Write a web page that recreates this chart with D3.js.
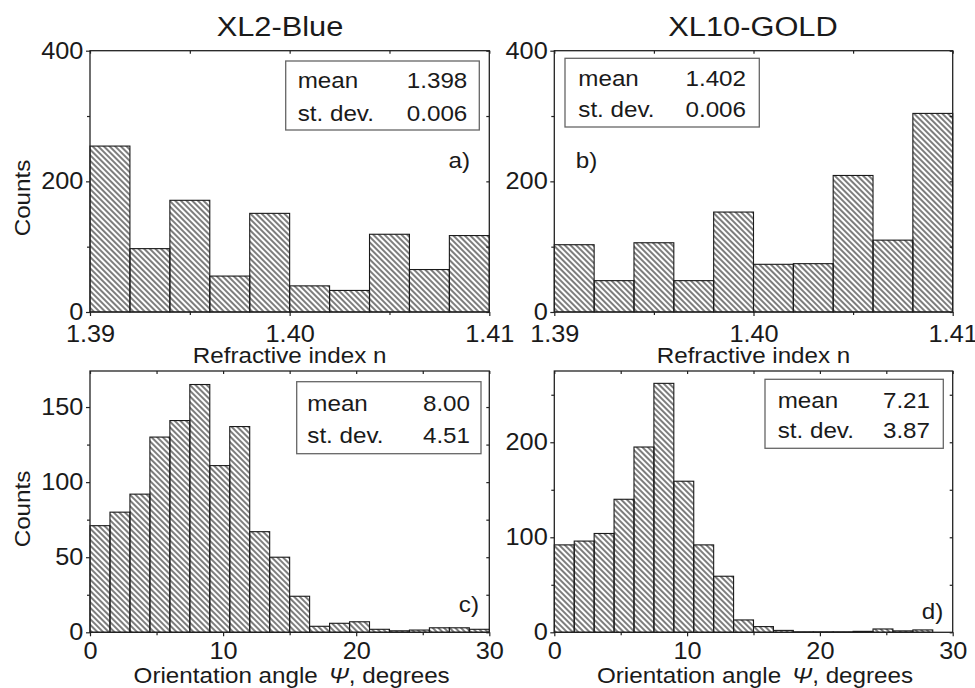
<!DOCTYPE html>
<html>
<head>
<meta charset="utf-8">
<script src="https://cdn.jsdelivr.net/npm/d3@7"></script>
<style>
body { margin: 0; background: #fff; }
svg { display: block; font-family: "Liberation Sans", Arial, sans-serif; }
</style>
</head>
<body>
<svg id="chart" width="975" height="688"></svg>
<script>
// refractive index bins (width 0.002)
const nEdges = [1.390, 1.392, 1.394, 1.396, 1.398, 1.400, 1.402, 1.404, 1.406, 1.408, 1.410];
const countsA = [254, 97, 171, 55, 151, 40, 33, 119, 65, 117];
const countsB = [103, 48, 106, 48, 153, 73, 74, 209, 110, 304];

// orientation angle bins (width 1.5 deg)
const angleEdges = [0, 1.5, 3, 4.5, 6, 7.5, 9, 10.5, 12, 13.5, 15, 16.5, 18, 19.5, 21, 22.5, 24, 25.5, 27, 28.5, 30];
const countsC = [71, 80, 92, 130, 141, 165, 111, 137, 67, 50, 24, 4, 6, 7, 2, 1, 1.5, 3, 3, 2];
const countsD = [92, 96, 104, 140, 195, 262, 159, 92, 59, 13, 6, 2, 0.5, 0.5, 0.5, 1, 3.5, 1.5, 2.5, 0];

// tick labels
const nTicks = [1.39, 1.40, 1.41];
const nMinor = [1.395, 1.405];
const angleTicks = [0, 10, 20, 30];
const angleMinor = [5, 15, 25];

// stats boxes
const statNames = ["mean", "st. dev."];
const statsA = ["1.398", "0.006"];
const statsB = ["1.402", "0.006"];
const statsC = ["8.00", "4.51"];
const statsD = ["7.21", "3.87"];

const titles = ["XL2-Blue", "XL10-GOLD"];

const svg = d3.select("#chart");
const ink = "#1a1a1a";
const sx = 1.1; // the figure's lettering is a bit wide

const defs = svg.append("defs");
const hatch = defs.append("pattern")
  .attr("id", "hatch")
  .attr("patternUnits", "userSpaceOnUse")
  .attr("width", 4)
  .attr("height", 4)
  .attr("patternTransform", "rotate(-45)");
hatch.append("line")
  .attr("x1", 2).attr("y1", -1).attr("x2", 2).attr("y2", 5)
  .attr("stroke", "#111").attr("stroke-width", 1.1);

function label(x, y, txt, size, anchor, rot) {
  return svg.append("text")
    .attr("transform", `translate(${x},${y})` + (rot ? ` rotate(${rot})` : "") + ` scale(${sx},1)`)
    .attr("text-anchor", anchor || "middle")
    .attr("font-size", size)
    .attr("fill", ink)
    .text(txt);
}

function styleAxis(sel) {
  sel.select(".domain").remove();
  sel.selectAll("line").attr("stroke", "#222").attr("stroke-width", 1.2);
  sel.selectAll("text")
    .attr("font-size", 23)
    .attr("fill", ink)
    .attr("font-family", "Liberation Sans, Arial, sans-serif")
    .attr("transform", `scale(${sx},1)`);
}

function drawPanel(p) {
  const x = d3.scaleLinear().domain(p.xDomain).range([p.left, p.right]);
  const y = d3.scaleLinear().domain(p.yDomain).range([p.bottom, p.top]);
  const g = svg.append("g");

  g.selectAll("rect.bar")
    .data(p.counts)
    .join("rect")
    .attr("class", "bar")
    .attr("x", (d, i) => x(p.edges[i]))
    .attr("width", (d, i) => x(p.edges[i + 1]) - x(p.edges[i]))
    .attr("y", d => y(d))
    .attr("height", d => y(0) - y(d))
    .attr("fill", "url(#hatch)")
    .attr("stroke", ink)
    .attr("stroke-width", 1.1);

  g.append("rect")
    .attr("x", p.left).attr("y", p.top)
    .attr("width", p.right - p.left).attr("height", p.bottom - p.top)
    .attr("fill", "none").attr("stroke", "#222").attr("stroke-width", 1.3);

  // bottom + left (outward, labelled)
  g.append("g").attr("transform", `translate(0,${p.bottom})`)
    .call(d3.axisBottom(x).tickValues(p.xMajor).tickSize(4).tickPadding(p.xPad).tickFormat(d3.format(p.xFmt)))
    .call(styleAxis);
  g.append("g").attr("transform", `translate(0,${p.bottom})`)
    .call(d3.axisBottom(x).tickValues(p.xMinor).tickSize(3).tickFormat(""))
    .call(styleAxis);
  g.append("g").attr("transform", `translate(${p.left},0)`)
    .call(d3.axisLeft(y).tickValues(p.yMajor).tickSize(4).tickPadding(2).tickFormat(d3.format("d")))
    .call(styleAxis);
  g.append("g").attr("transform", `translate(${p.left},0)`)
    .call(d3.axisLeft(y).tickValues(p.yMinor).tickSize(3).tickFormat(""))
    .call(styleAxis);

  // top + right mirrors (inward)
  g.append("g").attr("transform", `translate(0,${p.top})`)
    .call(d3.axisTop(x).tickValues(p.xMajor.concat(p.xMinor)).tickSize(-3).tickFormat(""))
    .call(styleAxis);
  g.append("g").attr("transform", `translate(${p.right},0)`)
    .call(d3.axisRight(y).tickValues(p.yMajor.concat(p.yMinor)).tickSize(-3).tickFormat(""))
    .call(styleAxis);

  // stats box
  const b = p.box;
  g.append("rect")
    .attr("x", b.x).attr("y", b.y).attr("width", b.w).attr("height", b.h)
    .attr("fill", "#fff").attr("stroke", "#666").attr("stroke-width", 1.3);
  statNames.forEach((name, i) => {
    label(b.x + b.padL, b.y + b.rows[i], name, 22, "start");
    label(b.x + b.w - b.padR, b.y + b.rows[i], p.stats[i], 22, "end");
  });

  label(p.tag.x, p.tag.y, p.tag.text, 22, p.tag.anchor);
  label((p.left + p.right) / 2 + p.xLabelDx, p.xLabelY, null, 22).call(t => {
    p.xLabel.forEach(part => {
      t.append("tspan").attr("font-style", part.italic ? "italic" : null)
        .attr("dx", part.dx || 0).text(part.s);
    });
  });
  if (p.countsX != null) {
    label(p.countsX, p.countsY, "Counts", 22, "middle", -90);
  }
}

const refLabel = [{ s: "Refractive index n" }];
const angLabel = [{ s: "Orientation angle" }, { s: "Ψ", italic: true, dx: 10 }, { s: ", degrees" }];

const panels = [
  { left: 90, right: 489.3, top: 50.7, bottom: 312, edges: nEdges, counts: countsA,
    xDomain: [1.39, 1.41], yDomain: [0, 400], xMajor: nTicks, xMinor: nMinor, xFmt: ".2f", xPad: 10,
    yMajor: [0, 200, 400], yMinor: [100, 300], stats: statsA,
    box: { x: 285.7, y: 61, w: 193.6, h: 69, padL: 12, padR: 12, rows: [27.3, 59.7] },
    tag: { x: 470, y: 168, text: "a)", anchor: "end" },
    xLabel: refLabel, xLabelY: 363, xLabelDx: 0, countsX: 30, countsY: 198 },
  { left: 554.3, right: 952.7, top: 50.7, bottom: 312, edges: nEdges, counts: countsB,
    xDomain: [1.39, 1.41], yDomain: [0, 400], xMajor: nTicks, xMinor: nMinor, xFmt: ".2f", xPad: 10,
    yMajor: [0, 200, 400], yMinor: [100, 300], stats: statsB,
    box: { x: 565, y: 58.3, w: 194.3, h: 68.7, padL: 13.3, padR: 13.3, rows: [27.4, 58.4] },
    tag: { x: 575.7, y: 168, text: "b)", anchor: "start" },
    xLabel: refLabel, xLabelY: 363, xLabelDx: 0, countsX: null },
  { left: 90, right: 489.3, top: 371, bottom: 632.3, edges: angleEdges, counts: countsC,
    xDomain: [0, 30], yDomain: [0, 174], xMajor: angleTicks, xMinor: angleMinor, xFmt: "d", xPad: 6.5,
    yMajor: [0, 50, 100, 150], yMinor: [25, 75, 125], stats: statsC,
    box: { x: 296.7, y: 381.7, w: 184.3, h: 72, padL: 10.6, padR: 11, rows: [29, 61] },
    tag: { x: 479, y: 611.7, text: "c)", anchor: "end" },
    xLabel: angLabel, xLabelY: 683, xLabelDx: 2, countsX: 30, countsY: 509 },
  { left: 554.3, right: 952.7, top: 371, bottom: 632.3, edges: angleEdges, counts: countsD,
    xDomain: [0, 30], yDomain: [0, 275], xMajor: angleTicks, xMinor: angleMinor, xFmt: "d", xPad: 6.5,
    yMajor: [0, 100, 200], yMinor: [50, 150, 250], stats: statsD,
    box: { x: 765, y: 379.3, w: 178.3, h: 69, padL: 12.7, padR: 13.3, rows: [28.4, 58.4] },
    tag: { x: 943.3, y: 619.3, text: "d)", anchor: "end" },
    xLabel: angLabel, xLabelY: 683, xLabelDx: 1.5, countsX: null }
];

panels.forEach(drawPanel);

label(280, 36, titles[0], 28);
label(753, 36, titles[1], 28);
</script>
</body>
</html>
